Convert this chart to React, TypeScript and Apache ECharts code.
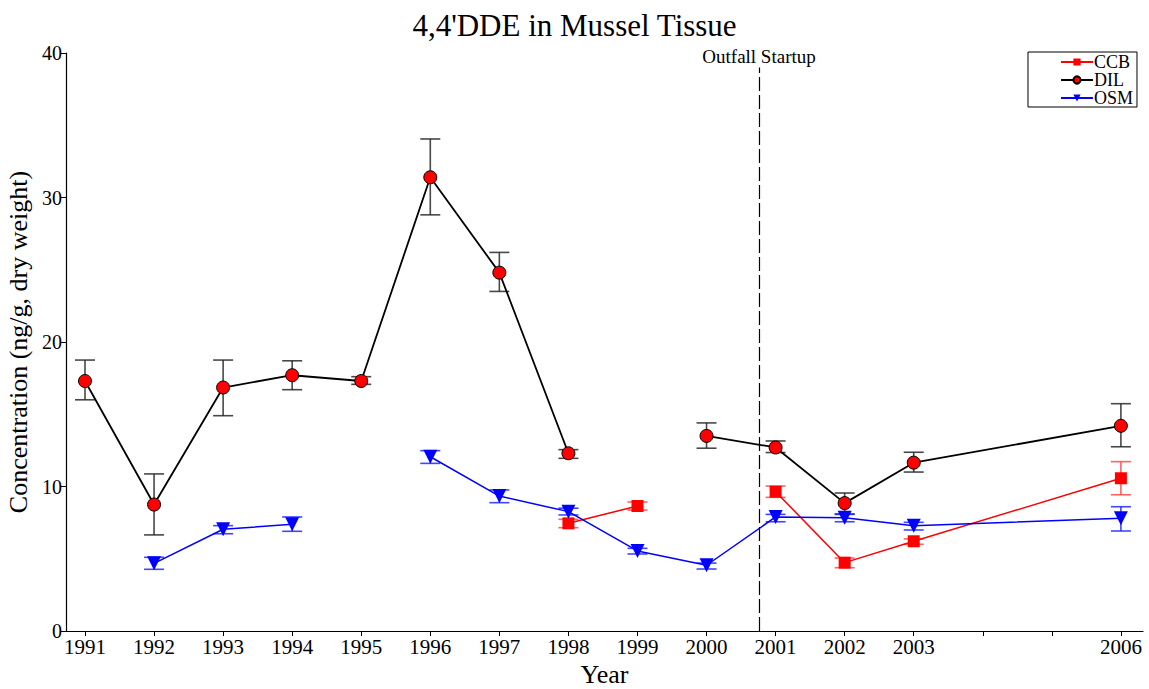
import React, { useEffect, useRef } from "react";
import * as echarts from "echarts";

const years = [1991, 1992, 1993, 1994, 1995, 1996, 1997, 1998, 1999, 2000, 2001, 2002, 2003, 2006];
const tickYears = [1991, 1992, 1993, 1994, 1995, 1996, 1997, 1998, 1999, 2000, 2001, 2002, 2003, 2004, 2005, 2006];
const labelYears = [1991, 1992, 1993, 1994, 1995, 1996, 1997, 1998, 1999, 2000, 2001, 2002, 2003, 2006];

const dilMean = [17.3, 8.75, 16.85, 17.7, 17.3, 31.4, 24.8, 12.3, null, 13.5, 12.7, 8.85, 11.65, 14.2];
const dilLow = [16.0, 6.65, 14.9, 16.7, 17.07, 28.8, 23.5, 11.95, null, 12.65, 12.35, 8.1, 11.0, 12.75];
const dilHigh = [18.75, 10.87, 18.75, 18.7, 17.6, 34.05, 26.2, 12.55, null, 14.4, 13.15, 9.55, 12.37, 15.73];

const osmMean = [null, 4.68, 7.04, 7.38, null, 12.06, 9.34, 8.26, 5.54, 4.55, 7.89, 7.84, 7.29, 7.8];
const osmLow = [null, 4.27, 6.73, 6.9, null, 11.6, 8.88, 8.03, 5.33, 4.29, 7.56, 7.56, 6.99, 6.92];
const osmHigh = [null, 5.1, 7.29, 7.89, null, 12.48, 9.76, 8.5, 5.72, 4.7, 8.07, 8.07, 7.52, 8.6];

const ccbMean = [null, null, null, null, null, null, null, 7.45, 8.65, null, 9.64, 4.73, 6.21, 10.57];
const ccbLow = [null, null, null, null, null, null, null, 7.15, 8.37, null, 9.25, 4.38, 6.0, 9.43];
const ccbHigh = [null, null, null, null, null, null, null, 7.73, 8.93, null, 10.03, 5.05, 6.37, 11.72];

const outfallYear = 2000.76;
const FONT = "Liberation Serif";

function lineData(mean: (number | null)[]) {
  const out: any[] = [];
  let started = false;
  mean.forEach((v, i) => {
    if (v === null) {
      if (started) out.push([years[i], "-"]);
    } else {
      started = true;
      out.push([years[i], v]);
    }
  });
  return out;
}

function errData(lo: (number | null)[], hi: (number | null)[]) {
  const out: any[] = [];
  lo.forEach((l, i) => {
    if (l !== null && hi[i] !== null) out.push([years[i], l, hi[i]]);
  });
  return out;
}

function errSeries(name: string, lo: (number | null)[], hi: (number | null)[], color: string) {
  return {
    type: "custom",
    name: name + "_err",
    data: errData(lo, hi),
    encode: { x: 0, y: [1, 2] },
    z: 1,
    silent: true,
    renderItem: (params: any, api: any) => {
      const x = api.value(0);
      const p1 = api.coord([x, api.value(2)]);
      const p2 = api.coord([x, api.value(1)]);
      const w = 10;
      const style = { stroke: color, lineWidth: 1.6 };
      return {
        type: "group",
        children: [
          { type: "line", shape: { x1: p1[0], y1: p1[1], x2: p2[0], y2: p2[1] }, style },
          { type: "line", shape: { x1: p1[0] - w, y1: p1[1], x2: p1[0] + w, y2: p1[1] }, style },
          { type: "line", shape: { x1: p2[0] - w, y1: p2[1], x2: p2[0] + w, y2: p2[1] }, style },
        ],
      };
    },
  };
}

export default function App() {
  const ref = useRef<HTMLDivElement>(null);
  useEffect(() => {
    if (!ref.current) return;
    const chart = echarts.init(ref.current, null, { renderer: "svg" });
    chart.setOption({
      animation: false,
      backgroundColor: "#ffffff",
      textStyle: { fontFamily: FONT },
      title: {
        text: "4,4'DDE in Mussel Tissue",
        left: "center",
        top: 5,
        textStyle: { fontFamily: FONT, fontSize: 31, fontWeight: "normal", color: "#000" },
      },
      legend: {
        orient: "vertical",
        right: 12,
        top: 52,
        itemGap: 0,
        itemWidth: 32,
        itemHeight: 9,
        borderColor: "#000",
        borderWidth: 1,
        borderRadius: 0,
        padding: [1, 4, 0, 32],
        data: ["CCB", "DIL", "OSM"],
        textStyle: { fontFamily: FONT, fontSize: 18, color: "#000", padding: [0, 0, 0, -4] },
      },
      grid: { left: 66, right: 6, top: 53, bottom: 58, outerBoundsMode: "none", containLabel: false },
      xAxis: {
        type: "value",
        min: 1990.725,
        max: 2006.32,
        name: "Year",
        nameLocation: "middle",
        nameGap: 30,
        nameTextStyle: { fontFamily: FONT, fontSize: 26, color: "#000" },
        axisLine: { show: true, onZero: false, lineStyle: { color: "#000", width: 1.2 } },
        axisTick: { show: true, length: 5, customValues: tickYears, lineStyle: { color: "#000" } },
        axisLabel: {
          customValues: labelYears,
          formatter: (v: number) => String(Math.round(v)),
          fontFamily: FONT,
          fontSize: 21,
          color: "#000",
          margin: 5,
        },
        splitLine: { show: false },
      },
      yAxis: {
        type: "value",
        min: 0,
        max: 40,
        interval: 10,
        name: "Concentration (ng/g, dry weight)",
        nameLocation: "middle",
        nameGap: 33,
        nameRotate: 90,
        nameTextStyle: { fontFamily: FONT, fontSize: 26, color: "#000" },
        axisLine: { show: true, lineStyle: { color: "#000", width: 1.2 } },
        axisTick: { show: true, length: 5, lineStyle: { color: "#000" } },
        axisLabel: { fontFamily: FONT, fontSize: 20, color: "#000", margin: 4 },
        splitLine: { show: false },
      },
      series: [
        errSeries("DIL", dilLow, dilHigh, "rgba(40,40,40,0.85)"),
        errSeries("OSM", osmLow, osmHigh, "rgba(30,40,255,0.85)"),
        errSeries("CCB", ccbLow, ccbHigh, "rgba(255,60,60,0.8)"),
        {
          type: "line",
          name: "CCB",
          data: lineData(ccbMean),
          connectNulls: false,
          symbol: "rect",
          symbolSize: 12,
          itemStyle: { color: "#ff0000" },
          lineStyle: { color: "#ff0000", width: 1.5 },
          z: 3,
        },
        {
          type: "line",
          name: "DIL",
          data: lineData(dilMean),
          connectNulls: false,
          symbol: "circle",
          symbolSize: 13,
          itemStyle: { color: "#ff0000", borderColor: "#000", borderWidth: 1 },
          lineStyle: { color: "#000", width: 1.8 },
          z: 4,
          markLine: {
            silent: true,
            symbol: ["none", "none"],
            lineStyle: { color: "#000", type: [14, 4], width: 1.2 },
            label: {
              show: true,
              position: "end",
              formatter: "Outfall Startup",
              fontFamily: FONT,
              fontSize: 19,
              color: "#000",
              distance: 1,
            },
            data: [[{ coord: [outfallYear, 0] }, { coord: [outfallYear, 39] }]],
          },
        },
        {
          type: "line",
          name: "OSM",
          data: lineData(osmMean),
          connectNulls: false,
          symbol: "triangle",
          symbolRotate: 180,
          symbolSize: 14,
          itemStyle: { color: "#0000ff" },
          lineStyle: { color: "#0000ff", width: 1.5 },
          z: 3,
        },
      ],
    });
    return () => chart.dispose();
  }, []);
  return <div ref={ref} style={{ position: "fixed", left: 0, top: 0, width: 1149, height: 689 }} />;
}
